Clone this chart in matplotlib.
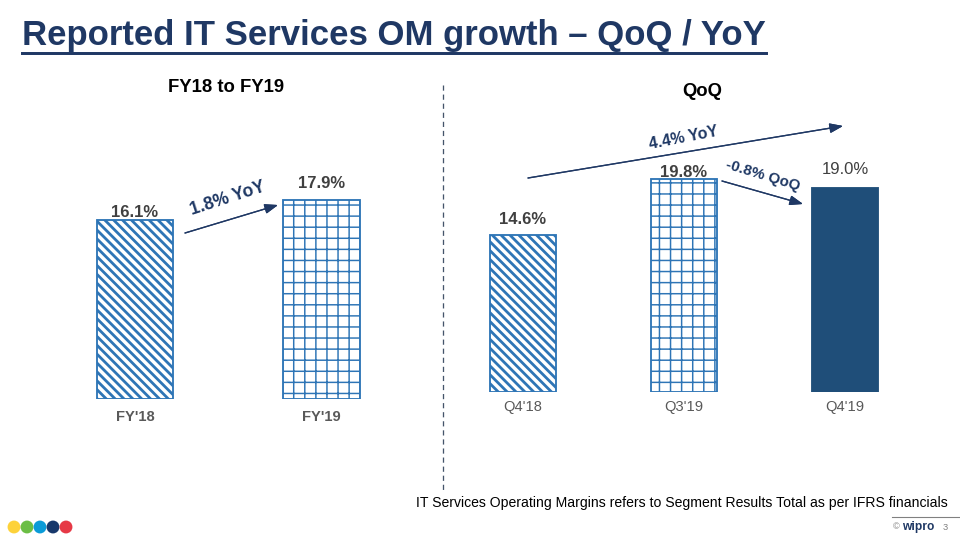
import matplotlib.pyplot as plt
from matplotlib.patches import Ellipse

plt.rcParams['font.family'] = ['Liberation Sans', 'DejaVu Sans']
plt.rcParams['hatch.linewidth'] = 0.8

# data
fy_labels = ["FY'18", "FY'19"]
fy_values = [16.1, 17.9]
q_labels = ["Q4'18", "Q3'19", "Q4'19"]
q_values = [14.6, 19.8, 19.0]

NAVY = '#1F3864'
BLUE = '#2E75B6'
DARK = '#1F4E79'
GREY = '#595959'

W, H = 960, 540
DPI = 400 / 3
fig = plt.figure(figsize=(W / DPI, H / DPI), dpi=DPI)


def P(x, y):
    # pixel position (from top-left) -> figure fraction
    return (x / W, 1 - y / H)


def make_axes(left, base, width, px_per_unit):
    ax = fig.add_axes([left / W, (H - base) / H, width / W, 25 * px_per_unit / H])
    ax.set_ylim(0, 25)
    ax.axis('off')
    return ax


DIAG = '\\' * 5
GRID = '++'


def draw_bar(ax, i, v, style):
    # diagonal stripes are heavier than the grid lines in the original
    lw = 1.5 if style.get('hatch') == DIAG else 0.8
    with plt.rc_context({'hatch.linewidth': lw}):
        ax.bar(i, v, width=0.41, linewidth=1.0, **style)


# left panel
axl = make_axes(41.75, 399, 373, 11.1)
axl.set_xlim(-0.5, 1.5)
styles_l = [dict(hatch=DIAG, color='white', edgecolor=BLUE),
            dict(hatch=GRID, color='white', edgecolor=BLUE)]
pads_l = [8, 17]
for i, (lab, v) in enumerate(zip(fy_labels, fy_values)):
    draw_bar(axl, i, v, styles_l[i])
    axl.annotate(f'{v:.1f}%', (i, v), xytext=(0, pads_l[i]), textcoords='offset pixels',
                 ha='center', va='center', fontsize=9, fontweight='bold', color='#404040')
    axl.annotate(lab, (i, 0), xytext=(0, -18), textcoords='offset pixels',
                 ha='center', va='center', fontsize=8, fontweight='bold', color=GREY)

# right panel
axr = make_axes(442.5, 392, 483, 10.75)
axr.set_xlim(-0.5, 2.5)
styles_r = [dict(hatch=DIAG, color='white', edgecolor=BLUE),
            dict(hatch=GRID, color='white', edgecolor=BLUE),
            dict(color=DARK, edgecolor=DARK)]
pads_r = [16, 7, 18]
weights_r = ['bold', 'bold', 'normal']
for i, (lab, v) in enumerate(zip(q_labels, q_values)):
    draw_bar(axr, i, v, styles_r[i])
    axr.annotate(f'{v:.1f}%', (i, v), xytext=(0, pads_r[i]), textcoords='offset pixels',
                 ha='center', va='center', fontsize=9, fontweight=weights_r[i], color='#404040')
    axr.annotate(lab, (i, 0), xytext=(0, -15), textcoords='offset pixels',
                 ha='center', va='center', fontsize=8, color=GREY)

# title with underline
fig.text(*P(22, 35), 'Reported IT Services OM growth \u2013 QoQ / YoY', fontsize=18.8,
         fontweight='bold', color=NAVY, ha='left', va='center')
fig.add_artist(plt.Line2D([22 / W, 766 / W], [1 - 52.5 / H] * 2, color=NAVY, lw=1.6))

# panel headings
fig.text(*P(226, 88), 'FY18 to FY19', fontsize=10, fontweight='bold', ha='center', va='center')
fig.text(*P(702, 92), 'QoQ', fontsize=10, fontweight='bold', ha='center', va='center')

# divider
fig.add_artist(plt.Line2D([443 / W] * 2, [1 - 85 / H, 1 - 490 / H], color='#44546A',
                          lw=0.7, ls=(0, (4, 3))))

# growth arrows
arrow = dict(arrowstyle='-|>,head_length=0.6,head_width=0.22', color=NAVY, lw=0.7,
             shrinkA=0, shrinkB=0)
for start, end, txt, pos, rot, size in [((185, 233), (278, 205), '1.8% YoY', (228, 199), 18, 9.5),
                                        ((528, 178), (843, 126), '4.4% YoY', (683, 138), 11, 8.6),
                                        ((722, 181), (803, 204), '-0.8% QoQ', (763, 176), -17, 8.2)]:
    fig.add_artist(plt.annotate('', xy=P(*end), xytext=P(*start), xycoords='figure fraction',
                                textcoords='figure fraction', arrowprops=arrow))
    fig.text(*P(*pos), txt, fontsize=size, fontweight='bold', color=NAVY, rotation=rot,
             ha='center', va='center', rotation_mode='anchor')

# footer
fig.text(*P(948, 503), 'IT Services Operating Margins refers to Segment Results Total as per IFRS financials',
         fontsize=7.6, ha='right', va='center', color='black')

dot_colors = ['#FDD23A', '#6BBE45', '#0A9BD8', '#17386B', '#E63946']
for k, c in enumerate(dot_colors):
    fig.add_artist(Ellipse(P(14 + 13 * k, 527), 11 / W, 11 / H, transform=fig.transFigure, color=c))

fig.add_artist(plt.Line2D([892 / W, 1.0], [1 - 517 / H] * 2, color='#808080', lw=0.6))
fig.text(*P(893, 527), '\u00a9', fontsize=5, color='#808080', ha='left', va='center')
fig.text(*P(902, 527), 'wipro', fontsize=6.5, fontweight='bold', color='#1F3864', ha='left', va='center')
fig.text(*P(945, 527), '3', fontsize=5, color='#808080', ha='center', va='center')

fig.savefig('out.png', dpi=DPI)
